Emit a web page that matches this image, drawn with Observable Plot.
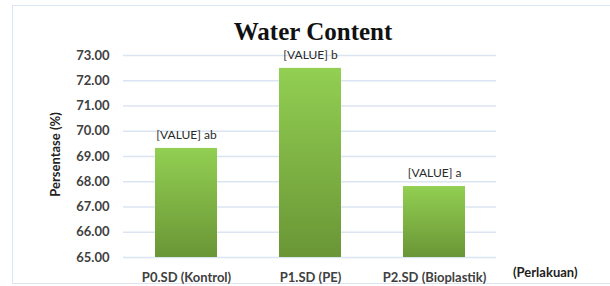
<!DOCTYPE html>
<html>
<head>
<meta charset="utf-8">
<script src="https://cdn.jsdelivr.net/npm/d3@7"></script>
<script src="https://cdn.jsdelivr.net/npm/@observablehq/plot@0.6"></script>
<style>
  html, body { margin: 0; padding: 0; background: #fff; }
  #wrap { position: relative; width: 610px; height: 286px; overflow: hidden; }
  #border { position: absolute; left: 12px; top: 5px; width: 620px; height: 279px; border: 1.5px solid #dce6f2; box-sizing: border-box; }
  #chart { position: absolute; left: 0; top: 0; }
</style>
</head>
<body>
<svg width="0" height="0" style="position:absolute">
  <defs>
    <linearGradient id="barGrad" x1="0" y1="0" x2="0" y2="1">
      <stop offset="0" stop-color="#92cf52"/>
      <stop offset="1" stop-color="#6a9636"/>
    </linearGradient>
  </defs>
</svg>
<div id="wrap"><div id="border"></div><div id="chart"></div></div>
<script>
const categories = ["P0.SD (Kontrol)", "P1.SD (PE)", "P2.SD (Bioplastik)"];
const values = [69.32, 72.49, 67.81];
const letters = ["ab", "b", "a"];
const yTicks = [65, 66, 67, 68, 69, 70, 71, 72, 73];
const title = "Water Content";
const yLabel = "Persentase (%)";
const xLabel = "(Perlakuan)";

const data = categories.map((c, i) => ({cat: c, value: values[i], letter: letters[i]}));
const labelFont = "Lato, 'Noto Sans', sans-serif";

const chart = Plot.plot({
  width: 610,
  height: 286,
  marginLeft: 123,
  marginRight: 114,
  marginTop: 55,
  marginBottom: 29,
  style: {background: "transparent", fontFamily: labelFont, overflow: "visible"},
  x: {domain: categories, paddingInner: 0.5, paddingOuter: 0.25, axis: null},
  y: {domain: [65, 73], axis: null},
  marks: [
    Plot.ruleY(yTicks, {stroke: "#dbe5f1", strokeWidth: 1.3}),
    Plot.barY(data, {x: "cat", y1: 65, y2: "value", fill: "url(#barGrad)"}),
    Plot.axisY(yTicks, {tickSize: 0, tickPadding: 14, tickFormat: d => d.toFixed(2), fontSize: 13, fontWeight: "bold", fill: "#404040", label: null}),
    Plot.axisX({tickSize: 0, tickPadding: 15, fontSize: 13, fontWeight: "bold", fill: "#404040", label: null}),
    Plot.text(data, {x: "cat", y: "value", text: d => "[VALUE] " + d.letter, dy: -13, fontSize: 12, fill: "#2a2a2a", fontFamily: labelFont}),
    Plot.text([title], {frameAnchor: "top", lineAnchor: "middle", dx: 3, dy: -24, fontSize: 25, fontWeight: "bold", fontFamily: "'Liberation Serif', 'DejaVu Serif', serif", fill: "#111"}),
    Plot.text([yLabel], {frameAnchor: "left", textAnchor: "middle", lineAnchor: "middle", rotate: -90, dx: -68, dy: -2, fontSize: 13, fontWeight: "bold", fill: "#222"}),
    Plot.text([xLabel], {frameAnchor: "bottom-right", textAnchor: "end", lineAnchor: "middle", dx: 81, dy: 15, fontSize: 13, fontWeight: "bold", fill: "#222"})
  ]
});
document.getElementById("chart").appendChild(chart);
</script>
</body>
</html>
